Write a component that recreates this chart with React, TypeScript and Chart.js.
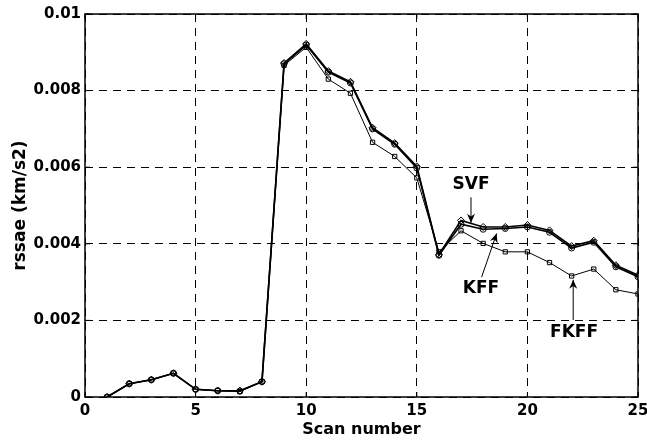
import React, { useEffect, useRef } from "react";
import { Chart, registerables } from "chart.js";

Chart.register(...registerables);

const scans = [1, 2, 3, 4, 5, 6, 7, 8, 9, 10, 11, 12, 13, 14, 15, 16, 17, 18, 19, 20, 21, 22, 23, 24, 25];
const svf = [0, 0.000347, 0.00045, 0.00062, 0.0002, 0.000165, 0.000165, 0.0004, 0.00872, 0.00922, 0.00851, 0.00823, 0.00703, 0.00663, 0.00602, 0.00372, 0.00461, 0.00444, 0.00444, 0.00449, 0.00435, 0.00394, 0.00408, 0.00344, 0.00318];
const kff = [0, 0.000347, 0.00045, 0.00062, 0.0002, 0.000165, 0.000155, 0.0004, 0.00870, 0.00919, 0.00848, 0.00820, 0.00700, 0.00660, 0.00598, 0.00370, 0.00451, 0.00438, 0.00440, 0.00444, 0.00430, 0.00389, 0.00404, 0.00340, 0.00314];
const fkff = [0, 0.000347, 0.00045, 0.00062, 0.0002, 0.000165, 0.00014, 0.0004, 0.00866, 0.00913, 0.0083, 0.00793, 0.00665, 0.00628, 0.00572, 0.00379, 0.00434, 0.00401, 0.00379, 0.00379, 0.00351, 0.00316, 0.00334, 0.0028, 0.00269];

const xTicks = [0, 5, 10, 15, 20, 25];
const yTicks = [0, 0.002, 0.004, 0.006, 0.008, 0.01];

// annotation labels: [text, textX, textY, arrowFromX, arrowFromY, arrowToX, arrowToY]
const annotations: [string, number, number, number, number, number, number][] = [
  ["SVF", 17.45, 0.00555, 17.45, 0.005215, 17.45, 0.00455],
  ["KFF", 17.9, 0.00284, 17.93, 0.00313, 18.61, 0.00427],
  ["FKFF", 22.11, 0.00167, 22.07, 0.00201, 22.07, 0.00306],
];

const FONT = "'DejaVu Sans', sans-serif";

const boxPlugin = {
  id: "boxPlugin",
  afterDraw(chart: any) {
    const { ctx, chartArea: a, scales } = chart;
    const xs = scales.x;
    const ys = scales.y;
    ctx.save();
    ctx.strokeStyle = "#000";
    ctx.lineWidth = 1;
    const tl = 5;
    ctx.beginPath();
    xTicks.forEach((v) => {
      const px = xs.getPixelForValue(v);
      ctx.moveTo(px, a.bottom);
      ctx.lineTo(px, a.bottom - tl);
      ctx.moveTo(px, a.top);
      ctx.lineTo(px, a.top + tl);
    });
    yTicks.forEach((v) => {
      const py = ys.getPixelForValue(v);
      ctx.moveTo(a.left, py);
      ctx.lineTo(a.left + tl, py);
      ctx.moveTo(a.right, py);
      ctx.lineTo(a.right - tl, py);
    });
    ctx.stroke();
    ctx.lineWidth = 1.5;
    ctx.strokeRect(a.left, a.top, a.right - a.left, a.bottom - a.top);

    // annotations
    ctx.fillStyle = "#000";
    ctx.font = `bold 17px ${FONT}`;
    ctx.textAlign = "center";
    ctx.textBaseline = "middle";
    annotations.forEach(([t, tx, ty, fx, fy, toX, toY]) => {
      ctx.fillText(t, xs.getPixelForValue(tx), ys.getPixelForValue(ty));
      const x1 = xs.getPixelForValue(fx);
      const y1 = ys.getPixelForValue(fy);
      const x2 = xs.getPixelForValue(toX);
      const y2 = ys.getPixelForValue(toY);
      ctx.lineWidth = 1;
      ctx.beginPath();
      ctx.moveTo(x1, y1);
      ctx.lineTo(x2, y2);
      ctx.stroke();
      const ang = Math.atan2(y2 - y1, x2 - x1);
      const hl = 9;
      const hw = 4;
      ctx.beginPath();
      ctx.moveTo(x2, y2);
      ctx.lineTo(x2 - hl * Math.cos(ang) + hw * Math.sin(ang), y2 - hl * Math.sin(ang) - hw * Math.cos(ang));
      ctx.lineTo(x2 - hl * 0.7 * Math.cos(ang), y2 - hl * 0.7 * Math.sin(ang));
      ctx.lineTo(x2 - hl * Math.cos(ang) - hw * Math.sin(ang), y2 - hl * Math.sin(ang) + hw * Math.cos(ang));
      ctx.closePath();
      ctx.fill();
    });
    ctx.restore();
  },
};

export default function App() {
  const ref = useRef<HTMLCanvasElement>(null);
  useEffect(() => {
    document.body.style.margin = "0";
    if (!ref.current) return;
    const mk = (label: string, data: number[], style: string, radius: number, width: number) => ({
      label,
      data: scans.map((s, i) => ({ x: s, y: data[i] })),
      borderColor: "#000",
      backgroundColor: "rgba(0,0,0,0)",
      borderWidth: width,
      pointStyle: style,
      pointRadius: radius,
      pointBorderColor: "#000",
      pointBackgroundColor: "rgba(0,0,0,0)",
      pointBorderWidth: 1,
      tension: 0,
      fill: false,
    });
    const chart = new Chart(ref.current, {
      type: "line",
      data: {
        datasets: [
          mk("FKFF", fkff, "rect", 3, 1),
          mk("KFF", kff, "circle", 3, 1.6),
          mk("SVF", svf, "rectRot", 3.5, 1.6),
        ] as any,
      },
      options: {
        animation: false,
        responsive: false,
        events: [],
        layout: { padding: { top: 14, right: 9, left: 0, bottom: 0 } },
        plugins: { legend: { display: false }, tooltip: { enabled: false } },
        scales: {
          x: {
            type: "linear",
            min: 0,
            max: 25,
            afterFit: (s: any) => {
              s.height = 44;
              s.paddingLeft = 0;
              s.paddingRight = 0;
            },
            afterBuildTicks: (s: any) => {
              s.ticks = xTicks.map((v) => ({ value: v }));
            },
            grid: {
              color: "#000",
              lineWidth: 1,
              drawTicks: false,
            },
            border: { display: false, dash: [8, 6] },
            ticks: {
              color: "#000",
              padding: 5,
              maxRotation: 0,
              font: { family: FONT, size: 15, weight: "bold" },
            },
            title: {
              display: true,
              text: "Scan number",
              color: "#000",
              padding: { top: 0, bottom: 2 },
              font: { family: FONT, size: 16, weight: "bold" },
            },
          },
          y: {
            type: "linear",
            min: 0,
            max: 0.01,
            afterFit: (s: any) => {
              s.width = 85;
              s.paddingTop = 0;
              s.paddingBottom = 0;
            },
            afterBuildTicks: (s: any) => {
              s.ticks = yTicks.map((v) => ({ value: v }));
            },
            grid: {
              color: "#000",
              lineWidth: 1,
              drawTicks: false,
            },
            border: { display: false, dash: [8, 6] },
            ticks: {
              color: "#000",
              padding: 4,
              callback: (v: any) => String(Number(Number(v).toFixed(4))),
              font: { family: FONT, size: 15, weight: "bold" },
            },
            title: {
              display: true,
              text: "rssae (km/s2)",
              color: "#000",
              padding: { top: 10, bottom: 0 },
              font: { family: FONT, size: 17, weight: "bold" },
            },
          },
        },
      } as any,
      plugins: [boxPlugin],
    });
    return () => chart.destroy();
  }, []);
  return (
    <div style={{ width: 647, height: 441 }}>
      <canvas ref={ref} width={647} height={441} />
    </div>
  );
}
